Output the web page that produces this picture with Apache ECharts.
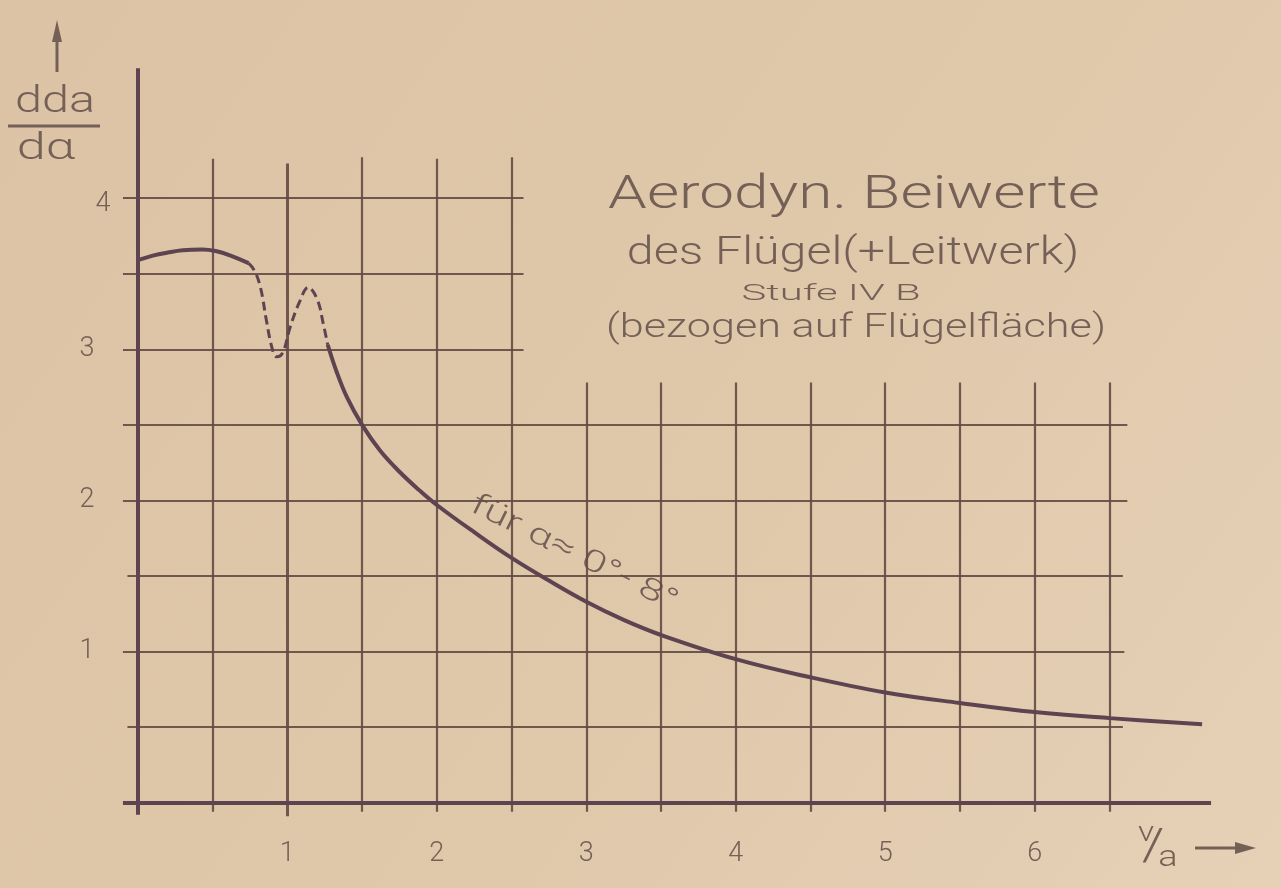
<!DOCTYPE html>
<html>
<head>
<meta charset="utf-8">
<title>Aerodyn. Beiwerte</title>
<script src="https://cdn.jsdelivr.net/npm/echarts@6/dist/echarts.min.js"></script>
<style>
  html, body { margin: 0; padding: 0; }
  #chart { width: 1281px; height: 888px; }
</style>
</head>
<body>
<div id="chart"></div>
<script>
// tick labels
var xTicks = [1, 2, 3, 4, 5, 6];
var yTicks = [1, 2, 3, 4];

// grid lines as [position, from, to]
var vGrid = [
    [0.5, -0.06, 4.26], [1, -0.09, 4.23], [1.5, -0.06, 4.27], [2, -0.06, 4.26], [2.5, -0.06, 4.27],
    [3, -0.06, 2.78], [3.5, -0.06, 2.78], [4, -0.06, 2.78], [4.5, -0.06, 2.78],
    [5, -0.06, 2.78], [5.5, -0.06, 2.78], [6, -0.06, 2.78], [6.5, -0.06, 2.78]
];
var hGrid = [
    [0.5, -0.07, 6.59], [1, -0.1, 6.6], [1.5, -0.07, 6.59], [2, -0.1, 6.62], [2.5, -0.1, 6.62],
    [3, -0.1, 2.58], [3.5, -0.1, 2.58], [4, -0.1, 2.58]
];

// curve dCa/dalpha over v/a
var headX = [0, 0.1, 0.2, 0.3, 0.43, 0.52, 0.62, 0.74];
var headY = [3.59, 3.62, 3.64, 3.655, 3.66, 3.65, 3.62, 3.57];
var dipX = [0.74, 0.78, 0.82, 0.86, 0.9, 0.93, 0.97, 1.02, 1.08, 1.14, 1.2, 1.24, 1.27];
var dipY = [3.57, 3.52, 3.41, 3.19, 3.0, 2.95, 2.98, 3.15, 3.31, 3.41, 3.33, 3.17, 3.03];
var tailX = [1.27, 1.33, 1.4, 1.5, 1.62, 1.75, 1.88, 2.0, 2.25, 2.5, 2.75, 3.0, 3.25, 3.5, 4.0, 4.5, 5.0, 5.5, 6.0, 6.5, 7.12];
var tailY = [3.03, 2.85, 2.68, 2.5, 2.33, 2.19, 2.07, 1.97, 1.79, 1.62, 1.47, 1.33, 1.21, 1.11, 0.95, 0.83, 0.73, 0.66, 0.6, 0.56, 0.52];

var ink = '#5e4450';
var gridInk = '#634a44';
var pencil = '#756058';
var font = 'Roboto';

function pairs(xs, ys){
    var out = [];
    for (var i = 0; i < xs.length; i++) out.push([xs[i], ys[i]]);
    return out;
}

// lettering helper, sx stretches the text sideways like the hand lettering
function letter(text, x, y, size, sx, weight, rot){
    return {
        type: 'text', x: x, y: y, scaleX: sx || 1, rotation: rot || 0,
        style: {
            text: text, fill: pencil, font: (weight || 300) + ' ' + size + 'px ' + font,
            textAlign: 'center', textVerticalAlign: 'middle'
        }
    };
}

var gridLines = [];
vGrid.forEach(function(g){
    gridLines.push({coords: [[g[0], g[1]], [g[0], g[2]]], lineStyle: {width: g[0] === 1 ? 3 : 2.2}});
});
hGrid.forEach(function(g){
    gridLines.push({coords: [[g[1], g[0]], [g[2], g[0]]]});
});
var axisLines = [
    {coords: [[0, -0.08], [0, 4.86]]},
    {coords: [[-0.1, 0], [7.18, 0]]}
];

var dom = document.getElementById('chart');
var myChart = echarts.init(dom);

var option = {
    backgroundColor: new echarts.graphic.LinearGradient(0, 0, 1, 1, [
        {offset: 0, color: '#dcc3a6'},
        {offset: 0.6, color: '#e0c8ab'},
        {offset: 1, color: '#e6d1b7'}
    ]),
    animation: false,
    grid: {left: 108, right: 52, top: 47, bottom: 55},
    xAxis: {
        type: 'value',
        min: -0.2,
        max: 7.3,
        axisLine: {show: false},
        axisTick: {show: false},
        splitLine: {show: false},
        axisLabel: {
            customValues: xTicks,
            margin: 8,
            color: pencil,
            fontFamily: font,
            fontWeight: 300,
            fontSize: 27
        }
    },
    yAxis: {
        type: 'value',
        min: -0.2,
        max: 5,
        axisLine: {show: false},
        axisTick: {show: false},
        splitLine: {show: false},
        axisLabel: {
            customValues: yTicks,
            margin: 21,
            align: 'center',
            color: pencil,
            fontFamily: font,
            fontWeight: 300,
            fontSize: 27,
            formatter: function(v){
                return v === 4 ? '{four|4}' : String(v);
            },
            rich: {
                four: {padding: [12, 0, 0, 32], color: pencil, fontFamily: font, fontWeight: 300, fontSize: 27}
            }
        }
    },
    graphic: [
        // y axis title with arrow
        {type: 'line', shape: {x1: 57, y1: 72, x2: 57, y2: 34}, style: {stroke: pencil, lineWidth: 3}},
        {type: 'polygon', shape: {points: [[57, 20], [52, 42], [62, 42]]}, style: {fill: pencil}},
        letter('dda', 55, 103, 36, 1.35),
        {type: 'line', shape: {x1: 8, y1: 126, x2: 100, y2: 126}, style: {stroke: pencil, lineWidth: 3}},
        letter('dα', 46, 150, 36, 1.45),
        // x axis title with arrow
        letter('v', 1146, 834, 28, 1.2),
        letter('/', 1153, 849, 44, 1.3),
        letter('a', 1168, 858, 30, 1.2),
        {type: 'line', shape: {x1: 1195, y1: 848, x2: 1240, y2: 848}, style: {stroke: pencil, lineWidth: 3}},
        {type: 'polygon', shape: {points: [[1256, 848], [1235, 842], [1235, 854]]}, style: {fill: pencil}},
        // title block
        letter('Aerodyn. Beiwerte', 854, 196, 46, 1.35),
        letter('des Flügel(+Leitwerk)', 853, 254, 39, 1.24),
        letter('Stufe IV B', 831, 294, 22, 1.9, 300),
        letter('(bezogen auf Flügelfläche)', 856, 328, 34, 1.27),
        // curve label
        letter('für α≈ 0°- 8°', 574, 554, 30, 1.45, 300, -0.46)
    ],
    series: [{
        type: 'lines',
        coordinateSystem: 'cartesian2d',
        silent: true,
        lineStyle: {color: gridInk, width: 2.2, opacity: 0.9},
        data: gridLines,
        z: 1
    }, {
        type: 'lines',
        coordinateSystem: 'cartesian2d',
        silent: true,
        lineStyle: {color: ink, width: 4, opacity: 1},
        data: axisLines,
        z: 2
    }, {
        type: 'line',
        data: pairs(headX, headY),
        smooth: 0.4,
        showSymbol: false,
        lineStyle: {color: ink, width: 4},
        z: 3
    }, {
        type: 'line',
        data: pairs(dipX, dipY),
        smooth: 0.4,
        showSymbol: false,
        lineStyle: {color: ink, width: 3, type: [9, 5]},
        z: 3
    }, {
        type: 'line',
        data: pairs(tailX, tailY),
        smooth: 0.4,
        showSymbol: false,
        lineStyle: {color: ink, width: 4},
        z: 3
    }]
};

myChart.setOption(option);
window.addEventListener('resize', function(){
    myChart.resize();
});
</script>
</body>
</html>
